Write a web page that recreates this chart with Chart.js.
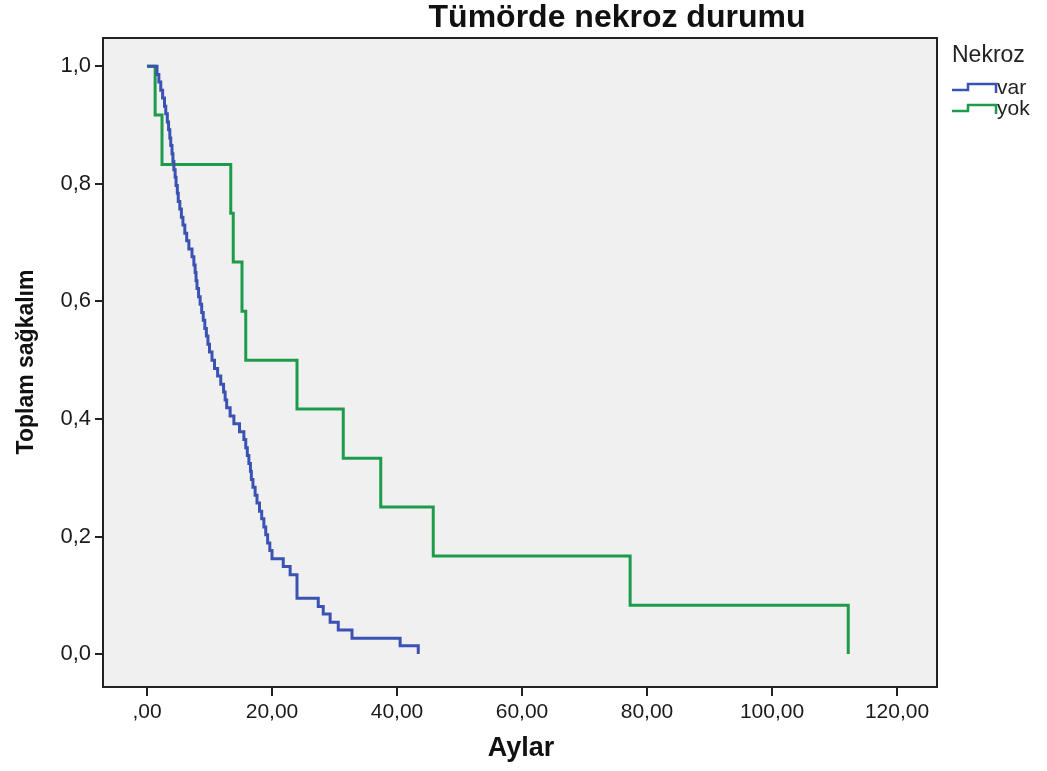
<!DOCTYPE html>
<html>
<head>
<meta charset="utf-8">
<script src="https://cdn.jsdelivr.net/npm/chart.js@4.4.0/dist/chart.umd.min.js"></script>
<style>
  html, body { margin: 0; padding: 0; background: #ffffff; }
  #wrap { width: 1047px; height: 771px; }
</style>
</head>
<body>
<div id="wrap"><canvas id="kmChart" width="1047" height="771"></canvas></div>
<script>
// tick labels
const xTickValues = [0, 20, 40, 60, 80, 100, 120];
const yTickValues = [0, 0.2, 0.4, 0.6, 0.8, 1.0];

// Nekroz = var
const varTimes = [0, 1.6, 1.9, 2.2, 2.5, 2.8, 3.0, 3.25, 3.45, 3.65, 3.8,
    4.0, 4.15, 4.3, 4.5, 4.65, 4.85, 5.0, 5.25, 5.5, 5.75,
    6.05, 6.35, 6.7, 7.2, 7.5, 7.7, 7.85, 8.0, 8.25, 8.5,
    8.75, 9.0, 9.25, 9.5, 9.75, 10.0, 10.4, 10.8, 11.3, 11.8,
    12.25, 12.5, 12.75, 13.3, 13.9, 14.8, 15.5, 15.8, 16.05, 16.3,
    16.55, 16.7, 16.95, 17.3, 17.6, 18.0, 18.35, 18.7, 19.0, 19.3,
    19.65, 20.0, 21.8, 22.9, 24.0, 27.4, 28.2, 29.3, 30.6, 32.8, 40.5, 43.4];
const varSurvival = [1, .986, .973, .959, .946, .932, .919, .905, .892, .878, .865,
    .851, .838, .824, .811, .797, .784, .770, .757, .743, .730,
    .716, .703, .689, .676, .662, .649, .635, .622, .608, .595,
    .581, .568, .554, .541, .527, .514, .500, .486, .473, .459,
    .446, .432, .419, .405, .392, .378, .365, .351, .338, .324,
    .311, .297, .284, .270, .257, .243, .230, .216, .203, .189,
    .176, .162, .149, .135, .095, .081, .068, .054, .041, .027, .014, 0];

// Nekroz = yok
const yokTimes = [0, 1.3, 2.4, 13.4, 13.8, 15.2, 15.8, 24.0, 31.4, 37.4, 45.8, 77.3, 112.2];
const yokSurvival = [1, .917, .833, .75, .667, .583, .5, .417, .333, .25, .167, .083, 0];

const blue = '#3a52b2';
const green = '#1e9a4b';

function toPoints(times, surv) {
    return times.map((t, i) => ({ x: t, y: surv[i] }));
}

function commaLabel(v, digits) {
    let s = v.toFixed(digits).replace('.', ',');
    if (s.startsWith('0,') && digits === 2) s = s.substring(1);
    return s;
}

// background, frame, titles, legend
const decor = {
    id: 'decor',
    beforeDraw(chart) {
        const { ctx, chartArea: a } = chart;
        ctx.save();
        ctx.fillStyle = '#f0f0f0';
        ctx.fillRect(a.left, a.top, a.right - a.left, a.bottom - a.top);
        ctx.restore();
    },
    afterDraw(chart) {
        const { ctx, chartArea: a } = chart;
        ctx.save();
        ctx.strokeStyle = '#222';
        ctx.lineWidth = 2;
        ctx.strokeRect(a.left, a.top, a.right - a.left, a.bottom - a.top);

        ctx.fillStyle = '#111';
        ctx.textAlign = 'center';
        ctx.textBaseline = 'alphabetic';
        ctx.font = 'bold 32px "Liberation Sans", Arial, sans-serif';
        ctx.fillText('Tümörde nekroz durumu', 617, 27);

        ctx.font = 'bold 27px "Liberation Sans", Arial, sans-serif';
        ctx.fillText('Aylar', 521, 756);

        ctx.save();
        ctx.translate(33, 362);
        ctx.rotate(-Math.PI / 2);
        ctx.font = 'bold 23px "Liberation Sans", Arial, sans-serif';
        ctx.fillText('Toplam sağkalım', 0, 0);
        ctx.restore();

        // legend
        ctx.textAlign = 'left';
        ctx.fillStyle = '#222';
        ctx.font = '23px "Liberation Sans", Arial, sans-serif';
        ctx.fillText('Nekroz', 952, 62);
        const items = [['var', blue, 93], ['yok', green, 114]];
        ctx.font = '21px "Liberation Sans", Arial, sans-serif';
        items.forEach(([label, col, yb]) => {
            ctx.strokeStyle = col;
            ctx.lineWidth = 2.5;
            ctx.beginPath();
            ctx.moveTo(952, yb - 3);
            ctx.lineTo(968, yb - 3);
            ctx.lineTo(968, yb - 9);
            ctx.lineTo(996, yb - 9);
            ctx.lineTo(996, yb);
            ctx.stroke();
            ctx.fillStyle = '#222';
            ctx.fillText(label, 997, yb + 1);
        });
        ctx.restore();
    }
};

new Chart(document.getElementById('kmChart'), {
    type: 'line',
    data: {
        datasets: [
            {
                label: 'var',
                data: toPoints(varTimes, varSurvival),
                borderColor: blue,
                borderWidth: 3,
                stepped: true,
                pointRadius: 0,
                fill: false
            },
            {
                label: 'yok',
                data: toPoints(yokTimes, yokSurvival),
                borderColor: green,
                borderWidth: 3,
                stepped: true,
                pointRadius: 0,
                fill: false
            }
        ]
    },
    options: {
        responsive: false,
        animation: false,
        layout: { padding: { left: 0, top: 38, right: 110, bottom: 0 } },
        plugins: {
            legend: { display: false },
            tooltip: { enabled: false }
        },
        scales: {
            x: {
                type: 'linear',
                min: -7.04,
                max: 126.4,
                afterFit(scale) { scale.height = 84; },
                afterBuildTicks(scale) { scale.ticks = xTickValues.map(v => ({ value: v })); },
                border: { display: false },
                grid: { drawOnChartArea: false, tickLength: 9, color: '#222', lineWidth: 2 },
                ticks: {
                    color: '#1a1a1a',
                    padding: 4,
                    maxRotation: 0,
                    font: { family: '"Liberation Sans", Arial, sans-serif', size: 21 },
                    callback: v => commaLabel(v, 2)
                }
            },
            y: {
                type: 'linear',
                min: -0.056,
                max: 1.048,
                afterFit(scale) { scale.width = 103; },
                afterBuildTicks(scale) { scale.ticks = yTickValues.map(v => ({ value: v })); },
                border: { display: false },
                grid: { drawOnChartArea: false, tickLength: 8, color: '#222', lineWidth: 2 },
                ticks: {
                    color: '#1a1a1a',
                    padding: 4,
                    font: { family: '"Liberation Sans", Arial, sans-serif', size: 22 },
                    callback: v => commaLabel(v, 1)
                }
            }
        }
    },
    plugins: [decor]
});
</script>
</body>
</html>
